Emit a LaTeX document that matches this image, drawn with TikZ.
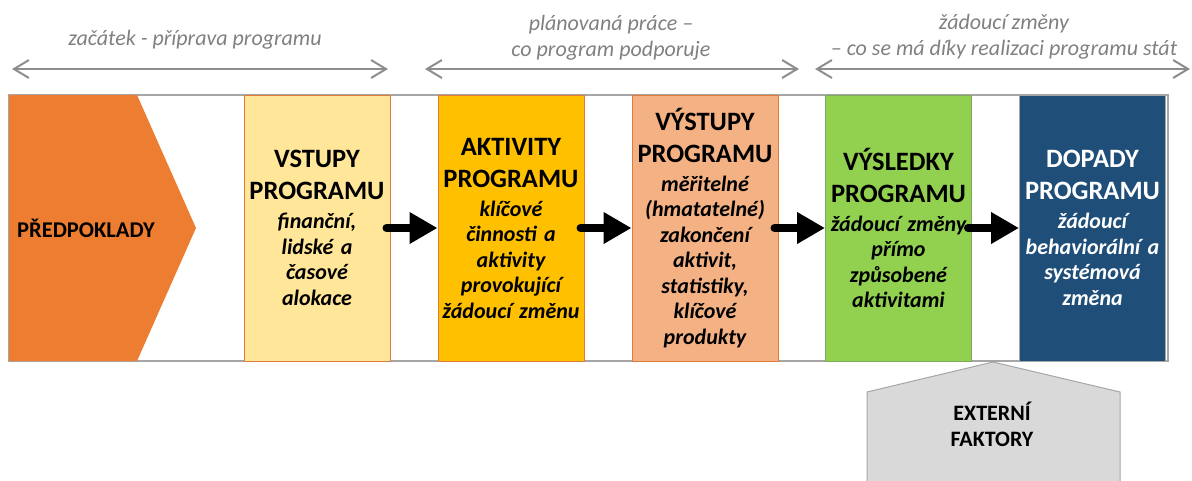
\documentclass[tikz,border=0pt]{standalone}
\usepackage{fontspec}
\setmainfont{Carlito}
\usetikzlibrary{arrows.meta}

\definecolor{premise}{HTML}{ED7D31}
\definecolor{inputs}{HTML}{FFE699}
\definecolor{activities}{HTML}{FFC000}
\definecolor{outputs}{HTML}{F4B183}
\definecolor{outcomes}{HTML}{92D050}
\definecolor{impacts}{HTML}{1F4E79}
\definecolor{external}{HTML}{D9D9D9}
\definecolor{greyline}{HTML}{A6A6A6}
\definecolor{labelgrey}{HTML}{808080}
\definecolor{boxline}{HTML}{E07B39}
\definecolor{greenline}{HTML}{7FA85A}

% stage headings and their descriptions
\newcommand\stagehead[1]{{\upshape\fontsize{26.5}{25.5}\selectfont #1}}

\begin{document}
\begin{tikzpicture}[x=1pt,y=-1pt,
  stage/.style={rectangle, inner sep=0pt, minimum width=146pt, minimum height=266pt,
    text width=146pt, align=center, line width=1pt,
    font=\fontsize{22}{25.5}\selectfont\bfseries\itshape},
  bigarrow/.style={line width=8pt, line cap=round, -{Triangle[length=28pt,width=30pt]}},
  spanarrow/.style={draw=greyline!85!black, line width=2pt,
    {Straight Barb[length=15pt,width=18pt]}-{Straight Barb[length=15pt,width=18pt]}},
  toplabel/.style={text=labelgrey, align=center, inner sep=0pt,
    font=\fontsize{22}{26}\selectfont\itshape},
]
\useasboundingbox (0,0) rectangle (1192,480);

% outer frame
\node[draw=greyline, line width=1.5pt, minimum width=1159pt, minimum height=266pt, inner sep=0pt]
  (frame) at (588.5,228) {};

% preconditions chevron
\fill[premise] (9,95) -- (137,95) -- (196,228) -- (137,361) -- (9,361) -- cycle;
\node[font=\fontsize{22.5}{25}\selectfont\bfseries, inner sep=0pt] (pre) at (86,228) {PŘEDPOKLADY};

% external factors block
\draw[fill=external, draw=greyline, line width=1pt]
  (993,362) -- (1120,392) -- (1120,500) -- (867,500) -- (867,392) -- cycle;
\node[font=\fontsize{22}{26}\selectfont\bfseries, align=center, inner sep=0pt] (ext) at (992,424)
  {EXTERNÍ\\FAKTORY};

% stages
\node[stage, fill=inputs, draw=boxline] (inp) at (317,228)
  {\stagehead{VSTUPY}\\[6.5pt]\stagehead{PROGRAMU}\\[3.5pt]finanční,\\lidské a\\časové\\alokace};
\node[stage, fill=activities, draw=boxline] (act) at (511,228)
  {\stagehead{AKTIVITY}\\[6.5pt]\stagehead{PROGRAMU}\\[3.5pt]klíčové\\činnosti a\\aktivity\\provokující\\žádoucí změnu};
\node[stage, fill=outputs, draw=boxline] (out) at (705,228)
  {\stagehead{VÝSTUPY}\\[6.5pt]\stagehead{PROGRAMU}\\[3.5pt]měřitelné\\(hmatatelné)\\zakončení\\aktivit,\\statistiky,\\klíčové\\produkty};
\node[stage, fill=outcomes, draw=greenline] (res) at (898.5,228)
  {\stagehead{VÝSLEDKY}\\[6.5pt]\stagehead{PROGRAMU}\\[3.5pt]žádoucí změny\\přímo\\způsobené\\aktivitami};
\node[stage, fill=impacts, draw=greyline, text=white] (imp) at (1092.5,228)
  {\stagehead{DOPADY}\\[6.5pt]\stagehead{PROGRAMU}\\[3.5pt]žádoucí\\behaviorální a\\systémová\\změna};

% flow between stages
\draw[bigarrow] ([xshift=-4pt]inp.east) -- (act.west);
\draw[bigarrow] ([xshift=-4pt]act.east) -- (out.west);
\draw[bigarrow] ([xshift=-4pt]out.east) -- (res.west);
\draw[bigarrow] ([xshift=-4pt]res.east) -- (imp.west);

% phase spans above the chain
\coordinate (s1a) at (12,69);   \coordinate (s1b) at (388,69);
\coordinate (s2a) at (425,69);  \coordinate (s2b) at (799,69);
\coordinate (s3a) at (815,69);  \coordinate (s3b) at (1190,69);
\draw[spanarrow] (s1a) -- (s1b);
\draw[spanarrow] (s2a) -- (s2b);
\draw[spanarrow] (s3a) -- (s3b);

\node[toplabel] (l1) at (195,40) {začátek - příprava programu};
\node[toplabel] (l2) at (611,38) {plánovaná práce –\\co program podporuje};
\node[toplabel] (l3) at (1004,37) {žádoucí změny\\– co se má díky realizaci programu stát};
\end{tikzpicture}
\end{document}
